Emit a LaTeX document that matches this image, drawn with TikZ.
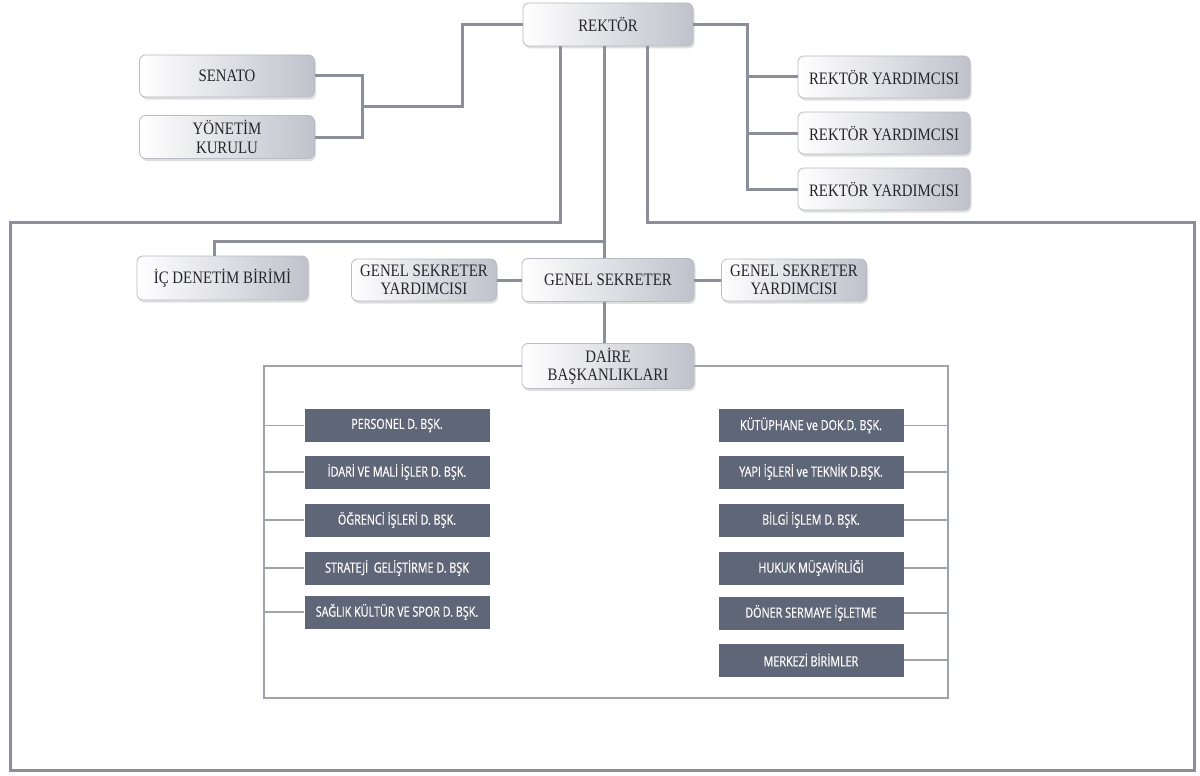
\documentclass[tikz,border=0pt]{standalone}
\usepackage{fontspec}
\setmainfont{Liberation Serif}
\newfontfamily\serfont[FakeStretch=0.85]{Liberation Serif}
\newfontfamily\condfont[FakeStretch=0.77,FakeBold=0.6]{Open Sans}
\usetikzlibrary{shadows}
\definecolor{boxgray}{RGB}{192,193,203}
\definecolor{boxedge}{RGB}{185,186,196}
\definecolor{textdark}{RGB}{38,38,42}
\definecolor{darkbox}{RGB}{95,102,120}
\definecolor{conngray}{RGB}{140,143,154}
\definecolor{thingray}{RGB}{160,162,172}
\tikzset{
  gbox/.style={rounded corners=6pt, draw=boxedge, line width=0.8pt,
    left color=white, right color=boxgray,
    drop shadow={shadow xshift=1.5pt, shadow yshift=-2.5pt, opacity=0.25},
    text=textdark, align=center, inner sep=0pt,
    font=\serfont\fontsize{17.5}{18.5}\selectfont},
  dbox/.style={fill=darkbox, text=white, inner sep=0pt,
    minimum width=185pt, minimum height=33pt,
    font=\condfont\fontsize{14}{15}\selectfont},
  conn/.style={draw=conngray, line width=3pt},
  thinconn/.style={draw=thingray, line width=1.2pt}
}
\begin{document}
\begin{tikzpicture}[x=1pt,y=-1pt]
\useasboundingbox (0,0) rectangle (1200,776);
% coordinates
\coordinate (j1) at (362,106);
\coordinate (j2) at (462,106);
\coordinate (j3) at (462,25);
\coordinate (rv) at (747,25);
\coordinate (fl) at (10,222);
\coordinate (fr) at (1194,222);
\coordinate (fbl) at (10,770);
\coordinate (fbr) at (1194,770);
\coordinate (br) at (604,241);
\coordinate (brl) at (214,241);
\coordinate (il) at (264,366);
\coordinate (ilb) at (264,698);
\coordinate (irb) at (948,698);
\coordinate (ir) at (948,366);

% top gray boxes
\node[gbox, minimum width=170pt, minimum height=43pt] (rektor) at (608,24.5) {REKTÖR};
\node[gbox, minimum width=175pt, minimum height=42pt] (senato) at (227,76) {SENATO};
\node[gbox, minimum width=175pt, minimum height=43pt] (yk) at (227,137) {YÖNETİM\\KURULU};
\node[gbox, minimum width=172pt, minimum height=42pt] (ry1) at (884,77) {REKTÖR YARDIMCISI};
\node[gbox, minimum width=172pt, minimum height=42pt] (ry2) at (884,133) {REKTÖR YARDIMCISI};
\node[gbox, minimum width=172pt, minimum height=42pt] (ry3) at (884,189) {REKTÖR YARDIMCISI};
\node[gbox, minimum width=171pt, minimum height=44pt] (ic) at (222.5,278) {İÇ DENETİM BİRİMİ};
\node[gbox, minimum width=145pt, minimum height=42pt] (gsyl) at (424,280) {GENEL SEKRETER\\YARDIMCISI};
\node[gbox, minimum width=172pt, minimum height=43pt] (gs) at (608,280) {GENEL SEKRETER};
\node[gbox, minimum width=145pt, minimum height=42pt] (gsyr) at (794,280) {GENEL SEKRETER\\YARDIMCISI};
\node[gbox, minimum width=172pt, minimum height=45pt] (db) at (608,366) {DAİRE\\BAŞKANLIKLARI};

% dark boxes left
\node[dbox] (pl1) at (397,425.5) {PERSONEL D. BŞK.};
\node[dbox] (pl2) at (397,472) {İDARİ VE MALİ İŞLER D. BŞK.};
\node[dbox] (pl3) at (397,520) {ÖĞRENCİ İŞLERİ D. BŞK.};
\node[dbox] (pl4) at (397,568) {STRATEJİ\ \ GELİŞTİRME D. BŞK};
\node[dbox] (pl5) at (397,612) {SAĞLIK KÜLTÜR VE SPOR D. BŞK.};
% dark boxes right
\node[dbox] (pr1) at (811,425.5) {KÜTÜPHANE ve DOK.D. BŞK.};
\node[dbox] (pr2) at (811,472) {YAPI İŞLERİ ve TEKNİK D.BŞK.};
\node[dbox] (pr3) at (811,520) {BİLGİ İŞLEM D. BŞK.};
\node[dbox] (pr4) at (811,568) {HUKUK MÜŞAVİRLİĞİ};
\node[dbox] (pr5) at (811,613) {DÖNER SERMAYE İŞLETME};
\node[dbox] (pr6) at (811,660) {MERKEZİ BİRİMLER};

% connectors
\draw[conn] (senato.east) -- (senato.east -| j1) -- (yk.east -| j1) -- (yk.east);
\draw[conn] (j1) -- (j2) -- (j3) -- (j3 -| rektor.west);
\draw[conn] (rektor.east |- rv) -- (rv) -- (rv |- ry3.west) -- (ry3.west);
\draw[conn] (rv |- ry1.west) -- (ry1.west);
\draw[conn] (rv |- ry2.west) -- (ry2.west);
\draw[conn] (rektor.south -| 560,0) -- (560,222) -- (fl) -- (fbl) -- (fbr) -- (fr) -- (647,222) -- (rektor.south -| 647,0);
\draw[conn] (rektor.south -| br) -- (gs.north -| br);
\draw[conn] (br) -- (brl) -- (brl |- ic.north);
\draw[conn] (gsyl.east) -- (gs.west);
\draw[conn] (gs.east) -- (gsyr.west);
\draw[conn] (gs.south -| br) -- (db.north -| br);
\draw[thinconn] (db.west) -- (il) -- (ilb) -- (irb) -- (ir) -- (db.east);
\foreach \n in {pl1,pl2,pl3,pl4,pl5} { \draw[thinconn] (\n.west -| il) -- (\n.west); }
\foreach \n in {pr1,pr2,pr3,pr4,pr5,pr6} { \draw[thinconn] (\n.east) -- (\n.east -| ir); }
\end{tikzpicture}
\end{document}
